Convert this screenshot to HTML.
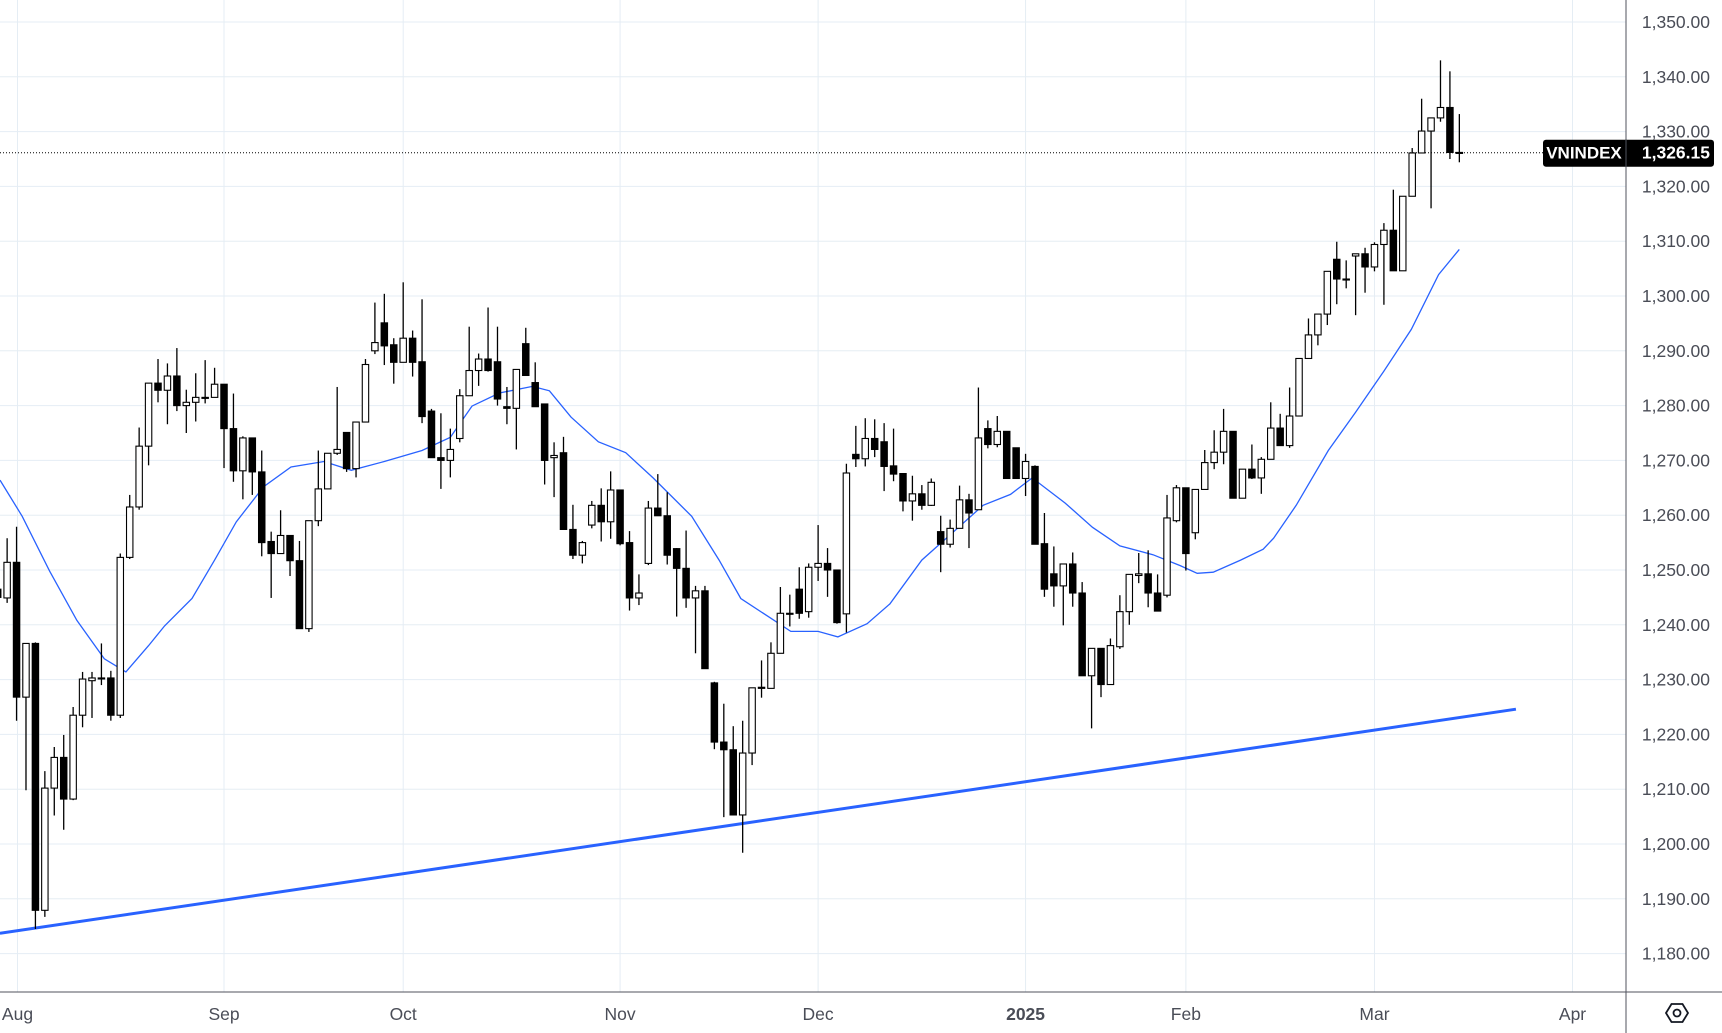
<!DOCTYPE html>
<html><head><meta charset="utf-8"><style>
html,body{margin:0;padding:0;background:#fff;}
svg{display:block;font-family:"Liberation Sans",sans-serif;}
</style></head><body>
<svg id="chart" width="1722" height="1033" viewBox="0 0 1722 1033" xmlns="http://www.w3.org/2000/svg">
<rect x="0" y="0" width="1722" height="1033" fill="#ffffff"/>
<g id="grid"></g>
<g id="trend"></g>
<g id="ma"></g>
<g id="candles"></g>
<g id="axes"></g>
</svg>
<script>
const opens=[1246.5,1244.9,1251.4,1226.8,1236.6,1187.9,1210.2,1215.8,1208.2,1223.5,1229.8,1230.3,1230.3,1223.5,1252.3,1261.5,1272.6,1284.1,1282.8,1285.4,1280,1280.6,1281.4,1281.5,1283.9,1275.8,1268.1,1274.1,1267.9,1255.2,1253,1256.3,1251.7,1239.3,1259,1264.8,1271.3,1275.1,1268.5,1277,1290,1295.1,1291.1,1287.9,1292.3,1288,1279,1270.5,1270,1274,1281.8,1286.4,1288.5,1288,1279.8,1279.5,1291.3,1284.2,1280.3,1270.5,1271.4,1257.4,1252.7,1258.2,1261.8,1258.8,1264.6,1255,1244.9,1251.2,1261.3,1259.9,1253.9,1250.3,1244.9,1246.2,1229.4,1218.6,1217.2,1205.3,1216.6,1228.4,1228.4,1234.8,1242.1,1246.5,1242.4,1250.5,1251.2,1250,1242,1271.1,1270.3,1274,1273.4,1269,1267.6,1262.6,1263.9,1261.8,1257,1254.7,1257.6,1262.8,1261,1275.8,1272.9,1275.3,1272.3,1266.7,1268.9,1254.8,1249.3,1247.1,1251.1,1245.8,1230.7,1235.7,1229.1,1236,1242.4,1249,1249.3,1245.8,1245.4,1259,1265,1256.8,1264.7,1269.6,1271.5,1275.3,1263.1,1268.4,1266.8,1270.2,1275.9,1272.7,1278.1,1288.6,1292.9,1296.7,1306.7,1303.1,1307.3,1307.7,1305.3,1309.4,1312,1304.6,1318.2,1326.1,1330.1,1332.5,1334.4,1326.2];
const highs=[1248,1255.8,1257.9,1236.6,1236.8,1213.3,1217.7,1219.9,1225,1231.4,1231.4,1236.6,1231.6,1253,1263.7,1276,1284.1,1288.5,1287.7,1290.5,1282.9,1285.9,1288.3,1286.9,1283.9,1282.2,1274.4,1274.1,1271.8,1257,1260.9,1256.3,1255.3,1259,1271.8,1271.3,1283.4,1275.1,1277,1288.5,1298.8,1300.4,1292.3,1302.5,1293.7,1299.4,1279.4,1278.6,1275.8,1283,1294.4,1289.5,1297.9,1294.4,1283.4,1286.6,1294.2,1287.9,1280.3,1273.3,1274.3,1261.9,1255.3,1262.6,1264.9,1268,1264.6,1257.1,1249.2,1262.6,1267.5,1264.2,1254,1257.2,1247.1,1247.1,1229.6,1225.6,1221.5,1222.5,1228.5,1233.5,1236.8,1246.9,1245.5,1250.5,1251.2,1258.2,1254,1250,1269.4,1276.3,1277.7,1277.5,1276.8,1275.8,1267.6,1267.2,1265.5,1266.7,1259.9,1259.2,1265.4,1263.9,1283.3,1277.3,1278.1,1275.3,1272.3,1271.2,1269.1,1260.4,1254.3,1251.1,1253.2,1247.8,1235.7,1235.7,1237.5,1245.4,1249.2,1253.1,1253.6,1249.2,1263.7,1265.5,1265,1264.7,1271.9,1275.5,1279.4,1275.3,1268.4,1272.9,1270.6,1280.6,1278.5,1283.3,1288.6,1295.9,1296.7,1304.5,1309.9,1306.5,1307.7,1308.8,1309.8,1313.3,1319.4,1318.2,1327,1336,1332.5,1343,1341,1333.2];
const lows=[1244,1244,1222.5,1209.8,1184.5,1186.7,1205.2,1202.6,1208,1221.3,1223,1229,1222.5,1223,1252,1261,1269.1,1280.6,1276.6,1279,1275,1277.1,1280.4,1281.5,1268.6,1266.1,1262.9,1263.7,1252.5,1244.9,1253,1248.9,1239.3,1238.7,1258,1264.8,1271,1267.9,1266.9,1277,1289.4,1287.4,1284,1287.9,1285.3,1276.8,1270.5,1264.8,1266.9,1273.3,1281.8,1283.6,1286.2,1280,1276.6,1272,1285.5,1279.8,1265.6,1263.3,1257.4,1252,1251.2,1257.6,1255.2,1255.7,1254.5,1242.6,1243.6,1250.9,1259.9,1251,1241.5,1243.1,1234.8,1232,1217.3,1204.9,1205.3,1198.4,1214.4,1226.7,1228.4,1234.8,1239.7,1241.1,1241.3,1248,1245.1,1240.2,1238.6,1268.8,1268.9,1270.6,1264.4,1266.2,1260.7,1259,1261,1261.7,1249.6,1254.1,1257.6,1254,1261,1272.2,1272.4,1266.7,1266.7,1263.5,1254.7,1245.1,1243.3,1239.9,1243.3,1230.7,1221.1,1226.8,1229.1,1235.6,1240,1247.6,1243.2,1242.5,1245,1258.7,1249.9,1255.6,1264.7,1268.4,1269.3,1263.1,1263.1,1266.6,1263.9,1270.2,1272.7,1272.3,1278.1,1288.6,1291,1294.7,1298.5,1301.4,1296.5,1300.6,1304.5,1298.4,1304.6,1304.6,1318.2,1326.1,1316,1331.8,1325,1324.4];
const closes=[1245,1251.4,1226.8,1236.6,1187.9,1210.2,1215.8,1208.2,1223.5,1230.1,1230.3,1230.2,1223.5,1252.3,1261.5,1272.6,1284.1,1282.8,1285.4,1280,1280.6,1281.5,1281.5,1283.9,1275.8,1268.1,1274.1,1267.9,1255,1253,1256.3,1251.7,1239.3,1259,1264.8,1271.3,1272,1268.5,1277,1287.5,1291.5,1290.9,1287.9,1292.3,1287.9,1278,1270.5,1270,1272,1281.8,1286.4,1288.5,1286.4,1281.2,1279.5,1286.6,1285.5,1279.8,1270,1270.9,1257.4,1252.7,1255,1261.8,1258.8,1264.6,1254.8,1244.9,1245.8,1261.3,1259.9,1252.7,1250.3,1244.9,1246.2,1232,1218.6,1217.2,1205.3,1216.6,1228.5,1228.6,1234.8,1242.1,1242.1,1242.1,1250.5,1251.2,1250,1240.4,1267.7,1270.3,1274,1272,1268.9,1267.5,1262.6,1263.9,1261.8,1266,1254.7,1257.6,1262.8,1260.4,1274.1,1272.9,1275.3,1266.7,1266.7,1269.8,1254.7,1246.5,1247.1,1251.1,1245.8,1230.7,1235.7,1229.1,1236.2,1242.4,1249.2,1249.3,1245.8,1242.5,1259.5,1265,1253,1264.7,1269.6,1271.5,1275.3,1263.1,1268.4,1266.8,1270.2,1275.9,1272.7,1278.1,1288.6,1292.9,1296.7,1304.5,1303.1,1303.1,1307.7,1305.3,1309.4,1312,1304.6,1318.2,1326.1,1330.1,1332.5,1334.4,1326.2,1326.15];
const maIndex=[0.24,2.6,5.5,8.4,11.3,13.6,16,17.7,20.6,23,25.3,28.2,31.1,34.6,37.5,41,45,48,50.3,53.2,56.7,58.5,60.8,63.7,66.6,69.5,73.6,76.5,78.8,81.8,84.1,87,89.1,92.2,94.6,98,101,104.5,107.4,109.7,113.2,116.1,119,122.5,125.4,127.2,128.9,131.8,134.2,135.3,137.7,141.1,144,147,149.9,152.8,155];
const maValues=[1266.4,1259.8,1249.8,1240.8,1233.8,1231.4,1236.2,1239.8,1244.8,1251.8,1258.8,1265.2,1268.8,1269.8,1268.2,1269.8,1271.8,1274.2,1279.9,1282.3,1283.5,1282.7,1277.9,1273.4,1271.4,1266.8,1259.8,1251.8,1244.8,1241.4,1238.8,1238.8,1237.8,1240.2,1243.8,1251.8,1256.4,1261.8,1263.8,1266.8,1262.2,1257.8,1254.4,1252.8,1250.8,1249.4,1249.6,1251.8,1253.8,1255.8,1261.8,1271.8,1278.8,1286.3,1293.9,1303.9,1308.5];
const trendIndex=[0.24,161];
const trendValues=[1183.7,1224.6];
const priceTicks=[1180,1190,1200,1210,1220,1230,1240,1250,1260,1270,1280,1290,1300,1310,1320,1330,1340,1350];
const monthLabels=["Aug","Sep","Oct","Nov","Dec","2025","Feb","Mar","Apr"];
const monthIndex=[2.1,24,43,66,87,109,126,146,167];
const lastPrice=1326.15;

const NS="http://www.w3.org/2000/svg";
const PLOT_R=1626, AXIS_Y=992;
function xS(i){return -2.3+i*9.43;}
function yS(p){return 22+(1350-p)*5.48;}
function mk(tag,attrs,parent){const e=document.createElementNS(NS,tag);for(const k in attrs)e.setAttribute(k,attrs[k]);parent.appendChild(e);return e;}
const grid=document.getElementById('grid'),cg=document.getElementById('candles'),ax=document.getElementById('axes');

priceTicks.forEach(p=>{
  const l=mk('line',{x1:0,x2:PLOT_R,y1:yS(p),y2:yS(p),stroke:'#e5edf4','stroke-width':1},grid);
  
  
});
monthIndex.forEach(i=>{
  const l=mk('line',{x1:xS(i),x2:xS(i),y1:0,y2:AXIS_Y,stroke:'#e5edf4','stroke-width':1},grid);
  
  
});

const tr=mk('line',{x1:xS(trendIndex[0]),y1:yS(trendValues[0]),x2:xS(trendIndex[1]),y2:yS(trendValues[1]),stroke:'#2962ff','stroke-width':3},document.getElementById('trend'));



let d='';maIndex.forEach((i,k)=>{d+=(k?'L':'M')+xS(i).toFixed(1)+','+yS(maValues[k]).toFixed(1);});
const ma=mk('path',{d:d,fill:'none',stroke:'#2962ff','stroke-width':1.3},document.getElementById('ma'));



const lp=mk('line',{x1:0,x2:PLOT_R,y1:yS(lastPrice),y2:yS(lastPrice),stroke:'#000','stroke-width':1,'stroke-dasharray':'1,2'},grid);



opens.forEach((o,i)=>{
  const c=closes[i],x=xS(i),up=c>=o;
  const g=mk('g',{},cg);
  
  
  mk('line',{x1:x,x2:x,y1:yS(highs[i]),y2:yS(lows[i]),stroke:'#000','stroke-width':1.3},g);
  const top=yS(Math.max(o,c)),h=Math.max(1,Math.abs(yS(o)-yS(c)));
  mk('rect',{x:x-3.2,y:top,width:6.4,height:h,fill:up?'#fff':'#000',stroke:'#000','stroke-width':1.1},g);
});

mk('line',{x1:PLOT_R,x2:PLOT_R,y1:0,y2:1033,stroke:'#50535e','stroke-width':1},ax);
mk('line',{x1:0,x2:1722,y1:AXIS_Y,y2:AXIS_Y,stroke:'#50535e','stroke-width':1},ax);
priceTicks.forEach(p=>{
  const t=mk('text',{x:1710,y:yS(p)+6,'text-anchor':'end','font-size':17.5,fill:'#4a4d57'},ax);
  t.textContent=p.toLocaleString('en-US',{minimumFractionDigits:2});
  
  
});
monthLabels.forEach((m,k)=>{
  const t=mk('text',{x:xS(monthIndex[k]),y:1020,'text-anchor':'middle','font-size':17.5,fill:'#4a4d57','font-weight':m==='2025'?'bold':'normal'},ax);
  t.textContent=m;
  
  
});
const yl=yS(lastPrice);
const badge=mk('g',{},ax);


mk('rect',{x:1543,y:yl-13,width:171,height:27,rx:3,fill:'#000'},badge);
mk('line',{x1:PLOT_R,x2:PLOT_R,y1:yl-13,y2:yl+14,stroke:'#50535e'},badge);
const t1=mk('text',{x:1584,y:yl+6,'text-anchor':'middle','font-size':17,fill:'#fff','font-weight':'bold'},badge);t1.textContent='VNINDEX';
const t2=mk('text',{x:1710,y:yl+6,'text-anchor':'end','font-size':17.5,fill:'#fff','font-weight':'bold'},badge);t2.textContent='1,326.15';
const gear=mk('g',{},ax);


mk('polygon',{points:'1666,1013 1671.5,1004 1682.5,1004 1688,1013 1682.5,1022 1671.5,1022',fill:'none',stroke:'#131722','stroke-width':1.8},gear);
mk('circle',{cx:1677,cy:1013,r:3.5,fill:'none',stroke:'#131722','stroke-width':1.8},gear);
</script>
</body></html>
